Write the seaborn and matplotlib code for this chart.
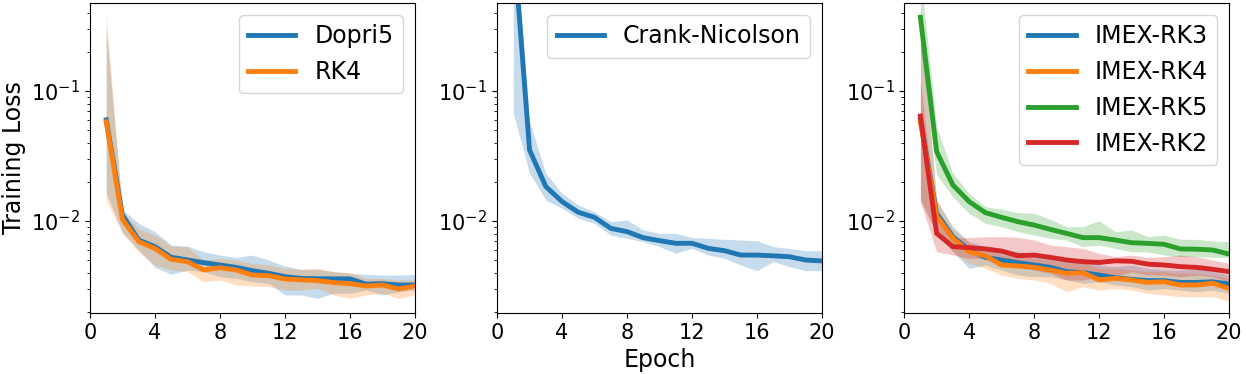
import numpy as np
import pandas as pd
import matplotlib
matplotlib.use("Agg")
import matplotlib.pyplot as plt
import seaborn as sns

# ------------------------------------------
# Data
# ------------------------------------------
epochs = list(range(1, 21))

# panel 1: explicit solvers
dopri5 = [0.060, 0.0111, 0.00714, 0.00635, 0.00526, 0.00502, 0.00478, 0.00459, 0.00440, 0.00415,
          0.00396, 0.00373, 0.00362, 0.00360, 0.00359, 0.00359, 0.00327, 0.00330, 0.00322, 0.00322]
dopri5_hi = [0.30, 0.0122, 0.0096, 0.00828, 0.00653, 0.00642, 0.0058, 0.00547, 0.00525, 0.00547,
             0.00501, 0.00451, 0.00425, 0.00425, 0.00408, 0.00396, 0.00389, 0.00384, 0.00384, 0.00389]
dopri5_lo = [0.0164, 0.0082, 0.00598, 0.0044, 0.00389, 0.0042, 0.00408, 0.00373, 0.00362, 0.00341,
             0.00332, 0.0027, 0.0027, 0.00254, 0.00278, 0.00278, 0.00294, 0.0027, 0.00286, 0.00294]
rk4 = [0.058, 0.0103, 0.00694, 0.00616, 0.00507, 0.00487, 0.00420, 0.00437, 0.00420, 0.00384,
       0.00380, 0.00358, 0.00353, 0.00348, 0.00336, 0.00330, 0.00316, 0.00322, 0.00300, 0.00316]
rk4_hi = [0.38, 0.0118, 0.00879, 0.0078, 0.00642, 0.00635, 0.00501, 0.00516, 0.00501, 0.00472,
          0.00459, 0.00432, 0.00425, 0.00432, 0.00408, 0.00401, 0.00362, 0.00362, 0.00352, 0.00352]
rk4_lo = [0.0145, 0.0080, 0.0058, 0.00459, 0.0042, 0.00408, 0.00341, 0.00352, 0.00322, 0.00316,
          0.00313, 0.00294, 0.00294, 0.00303, 0.0027, 0.00254, 0.0027, 0.00278, 0.00254, 0.0027]

# panel 2: Crank-Nicolson
cn = [1.5, 0.0352, 0.0184, 0.0141, 0.01167, 0.01067, 0.00878, 0.00828, 0.00744, 0.00706,
      0.00674, 0.00674, 0.00616, 0.00591, 0.00547, 0.00547, 0.00540, 0.00531, 0.00501, 0.00493]
cn_hi = [2.5, 0.0581, 0.0233, 0.01633, 0.01327, 0.0118, 0.00989, 0.01019, 0.00853, 0.00804,
         0.00804, 0.00748, 0.00736, 0.00723, 0.00715, 0.00705, 0.00635, 0.00616, 0.00591, 0.00591]
cn_lo = [0.0673, 0.0233, 0.01452, 0.0125, 0.0105, 0.0096, 0.0078, 0.00736, 0.00694, 0.00635,
         0.00564, 0.00616, 0.00547, 0.00516, 0.00459, 0.00415, 0.00487, 0.00446, 0.00415, 0.00415]

# panel 3: IMEX solvers
imex3 = [0.060, 0.01146, 0.00757, 0.00598, 0.00525, 0.00501, 0.00478, 0.00459, 0.00440, 0.00408,
         0.00401, 0.00384, 0.00366, 0.00356, 0.00348, 0.00348, 0.00337, 0.00337, 0.00341, 0.00328]
imex3_hi = [0.37, 0.0145, 0.00904, 0.00694, 0.00635, 0.00616, 0.0058, 0.00547, 0.00516, 0.00501,
            0.00516, 0.00459, 0.00446, 0.00459, 0.00432, 0.0042, 0.0042, 0.00432, 0.00408, 0.00384]
imex3_lo = [0.0145, 0.0080, 0.0058, 0.00432, 0.00459, 0.0042, 0.00384, 0.00373, 0.00373, 0.00352,
            0.00332, 0.00341, 0.00322, 0.00313, 0.00294, 0.00303, 0.00294, 0.00286, 0.00294, 0.00278]
imex4 = [0.058, 0.0109, 0.00736, 0.0058, 0.0054, 0.00459, 0.00451, 0.00440, 0.00420, 0.00396,
         0.00401, 0.00352, 0.00362, 0.00352, 0.00337, 0.00341, 0.00322, 0.00322, 0.00332, 0.00303]
imex4_hi = [0.37, 0.0145, 0.00879, 0.00673, 0.00616, 0.00547, 0.00547, 0.00516, 0.00501, 0.00472,
            0.00487, 0.00432, 0.00432, 0.0042, 0.00408, 0.00408, 0.00396, 0.00396, 0.00384, 0.00362]
imex4_lo = [0.0145, 0.0080, 0.0058, 0.00472, 0.00432, 0.00384, 0.00362, 0.00352, 0.00332, 0.00286,
            0.00313, 0.00294, 0.00303, 0.00294, 0.00278, 0.0027, 0.00262, 0.00262, 0.00262, 0.00241]
imex5 = [0.369, 0.0341, 0.0189, 0.0141, 0.01159, 0.01067, 0.00988, 0.00931, 0.00862, 0.00803,
         0.00745, 0.00745, 0.00714, 0.00681, 0.00673, 0.00662, 0.0061, 0.00607, 0.00598, 0.00557]
imex5_hi = [0.80, 0.0532, 0.0232, 0.01633, 0.01289, 0.0123, 0.01159, 0.01146, 0.0103, 0.00904,
            0.00904, 0.01006, 0.00828, 0.00853, 0.00757, 0.0078, 0.00723, 0.00723, 0.00701, 0.00694]
imex5_lo = [0.22, 0.0226, 0.0154, 0.01146, 0.0096, 0.00904, 0.00828, 0.0078, 0.00736, 0.00714,
            0.00635, 0.00653, 0.00616, 0.0058, 0.0058, 0.00547, 0.00532, 0.00532, 0.00525, 0.00525]
imex2 = [0.0642, 0.00803, 0.00635, 0.00624, 0.0061, 0.00587, 0.00541, 0.00547, 0.00525, 0.00501,
         0.00487, 0.0048, 0.00494, 0.0049, 0.00466, 0.00459, 0.00446, 0.0044, 0.00425, 0.00408]
imex2_hi = [0.12, 0.0100, 0.00736, 0.00748, 0.00757, 0.00757, 0.00748, 0.00714, 0.00653, 0.00635,
            0.00616, 0.00564, 0.00532, 0.00547, 0.00525, 0.00532, 0.00547, 0.00532, 0.00501, 0.00472]
imex2_lo = [0.0140, 0.0058, 0.00547, 0.00516, 0.00516, 0.00501, 0.00472, 0.0042, 0.00396, 0.00352,
            0.00352, 0.00373, 0.00373, 0.00408, 0.00384, 0.00384, 0.00373, 0.00384, 0.00373, 0.00341]

colors = sns.color_palette("tab10")
blue, orange, green, red = colors[0], colors[1], colors[2], colors[3]

panels = [
    [("Dopri5", dopri5, dopri5_lo, dopri5_hi, blue),
     ("RK4", rk4, rk4_lo, rk4_hi, orange)],
    [("Crank-Nicolson", cn, cn_lo, cn_hi, blue)],
    [("IMEX-RK3", imex3, imex3_lo, imex3_hi, blue),
     ("IMEX-RK4", imex4, imex4_lo, imex4_hi, orange),
     ("IMEX-RK5", imex5, imex5_lo, imex5_hi, green),
     ("IMEX-RK2", imex2, imex2_lo, imex2_hi, red)],
]

# ------------------------------------------
# Plot
# ------------------------------------------
fig, axes = plt.subplots(1, 3, figsize=(12.46, 3.74), dpi=100)
plt.subplots_adjust(left=0.0722, right=0.9864, bottom=0.163, top=0.992, wspace=0.253)

for ax, series in zip(axes, panels):
    for name, mean, lo, hi, c in series:
        df = pd.DataFrame({"Epoch": epochs, "Loss": mean, "lo": lo, "hi": hi})
        ax.fill_between(df["Epoch"], df["lo"], df["hi"], color=c, alpha=0.25, linewidth=0)
        sns.lineplot(data=df, x="Epoch", y="Loss", ax=ax, color=c, linewidth=3.5, label=name)
    ax.set_yscale("log")
    ax.set_ylim(0.00196, 0.475)
    ax.set_xlim(0, 20)
    ax.set_xticks([0, 4, 8, 12, 16, 20])
    ax.tick_params(axis="both", labelsize=15)
    ax.set_xlabel("")
    ax.set_ylabel("")
    ax.legend(loc="upper right", fontsize=17)

axes[0].set_ylabel("Training Loss", fontsize=17)
axes[1].set_xlabel("Epoch", fontsize=17)

plt.savefig("out.png", dpi=100)
